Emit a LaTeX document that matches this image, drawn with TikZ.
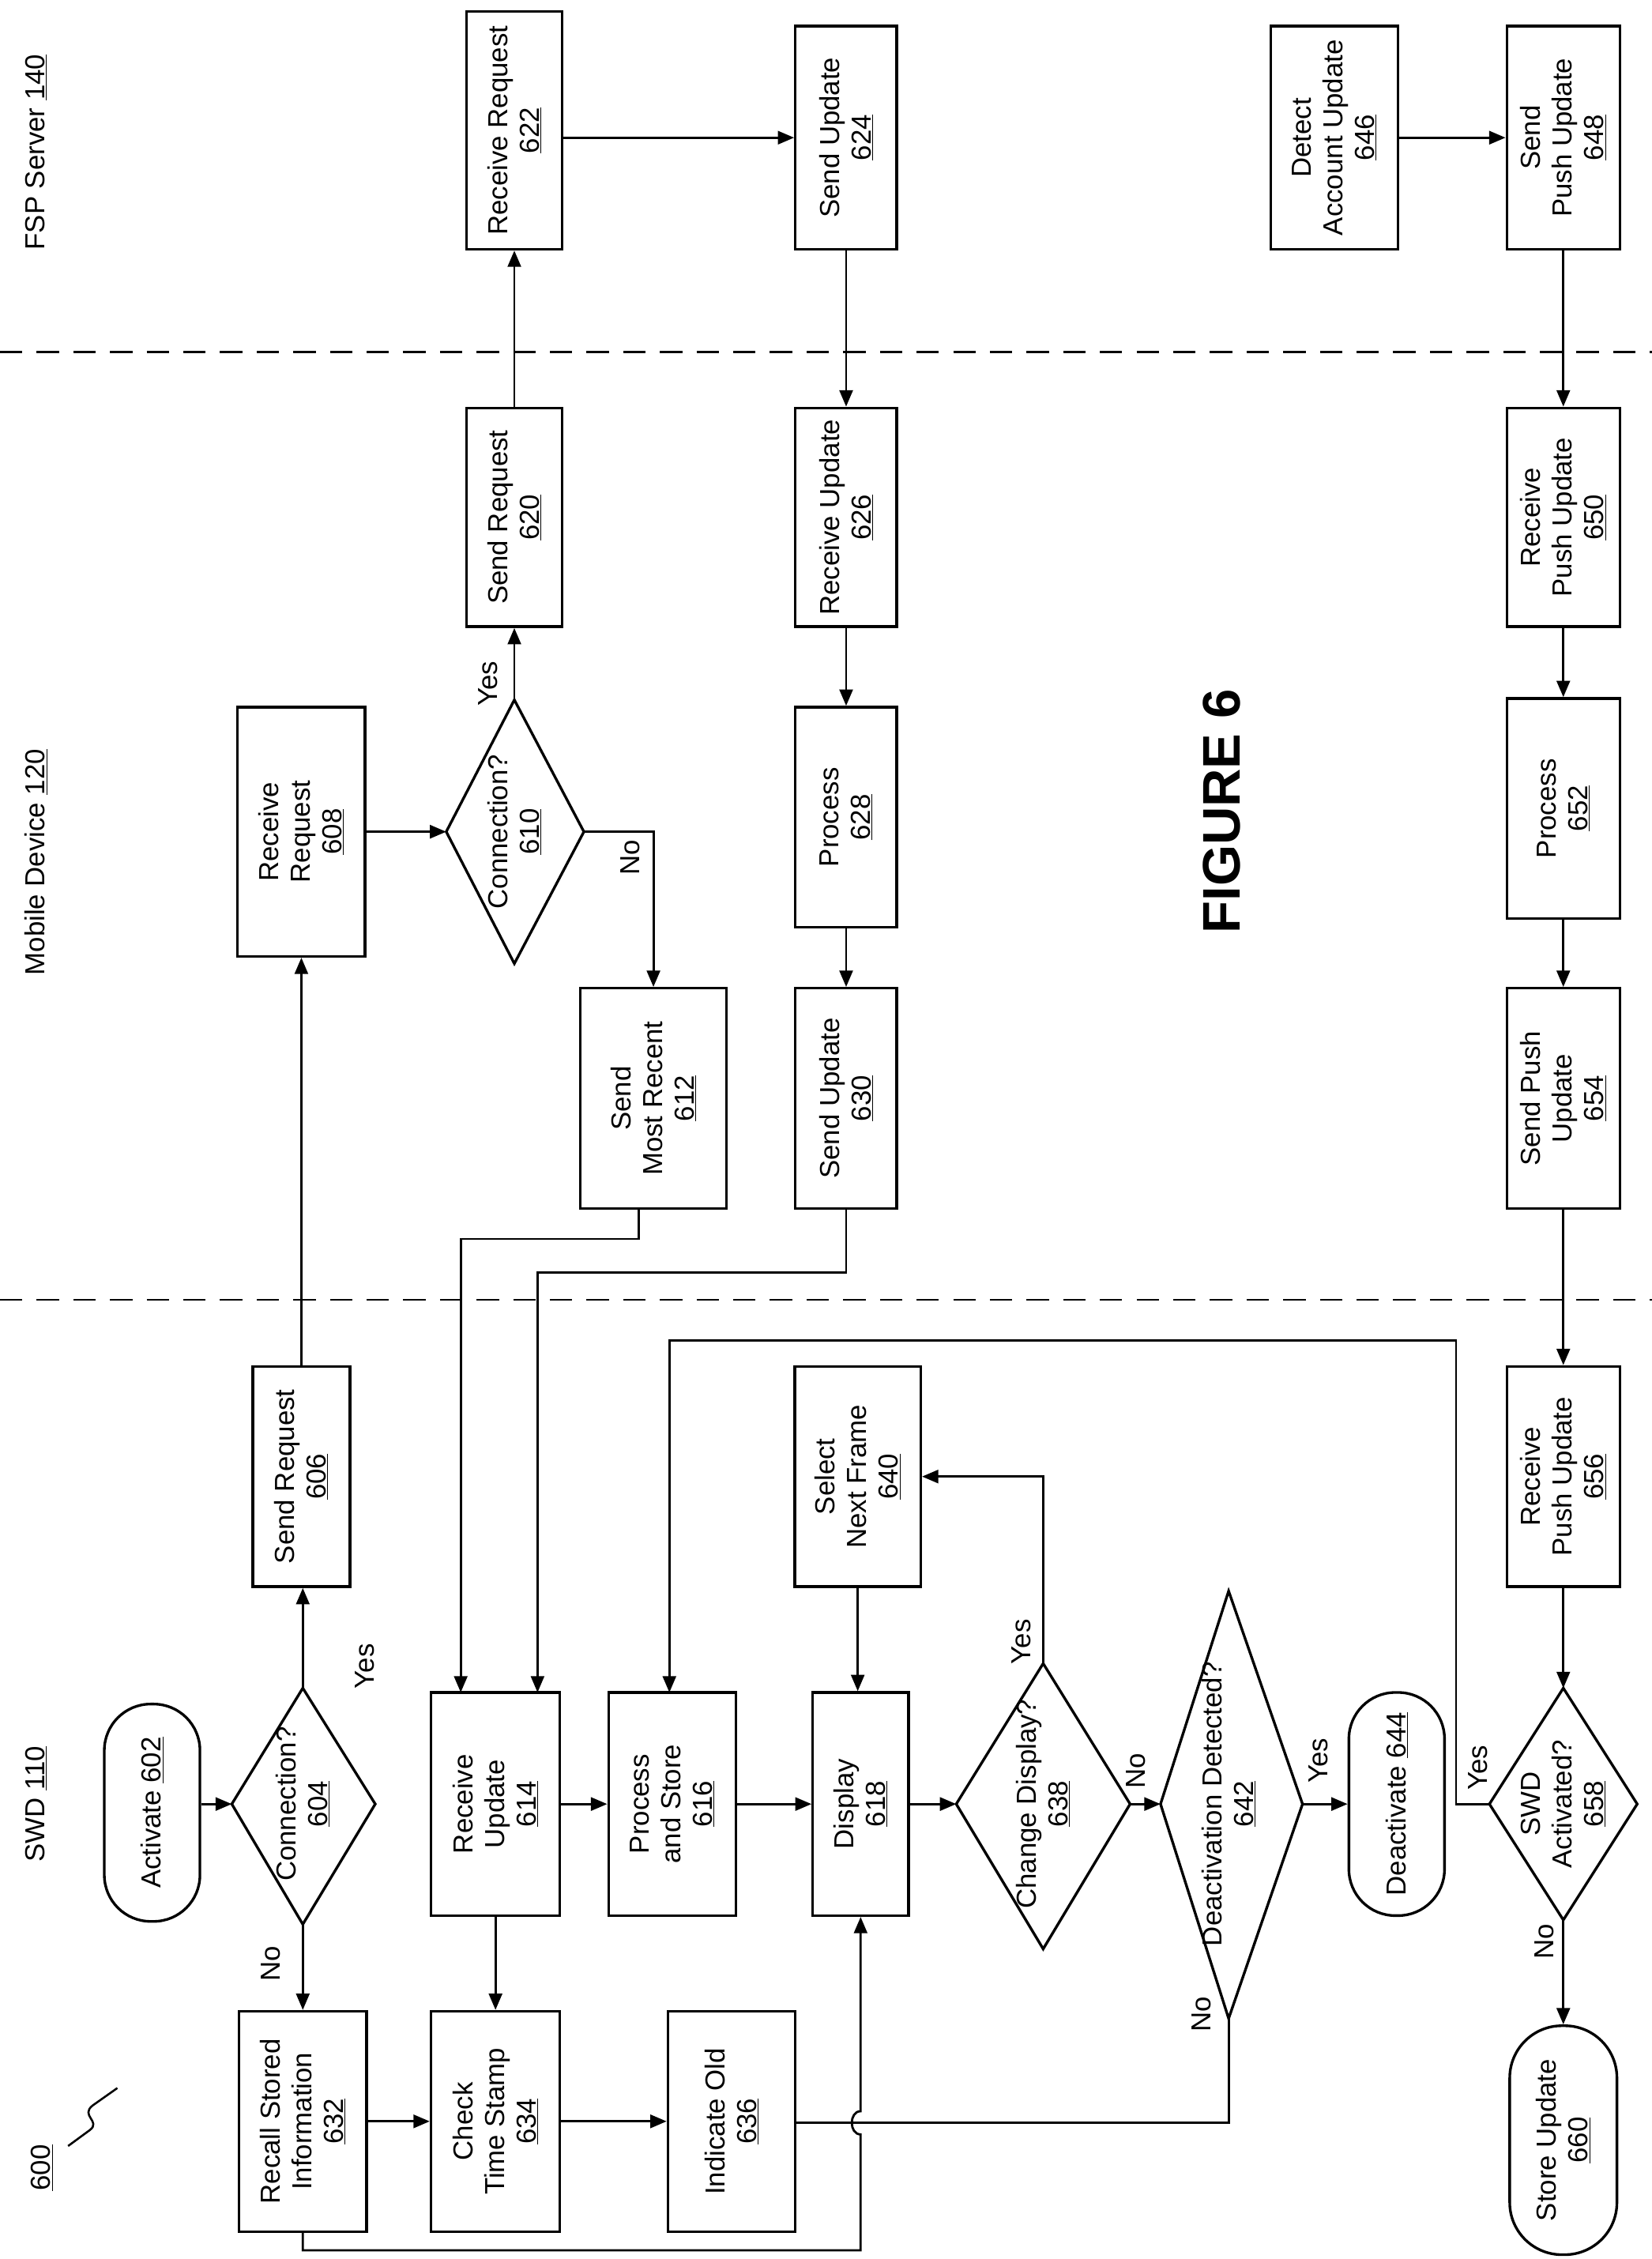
\documentclass[tikz,border=0pt]{standalone}
\usepackage{fontspec}
\setmainfont{Liberation Sans}
\usetikzlibrary{shapes.geometric,arrows.meta}
\begin{document}
\begin{tikzpicture}[x=0.05cm,y=-0.05cm,
  every node/.style={font=\fontsize{27}{31}\selectfont},
  base/.style={draw,line width=2.6pt,rotate=90,align=center,inner sep=2pt},
  box/.style={base},
  term/.style={base,rounded corners=1.6cm},
  dtext/.style={rotate=90,align=center,inner sep=1pt},
  dline/.style={line width=2.6pt,line join=miter},
  lab/.style={rotate=90,inner sep=1pt},
  arr/.style={line width=2.2pt,-{Triangle[length=16pt,width=13pt]}},
  ln/.style={line width=2.2pt}]
\useasboundingbox (0,0) rectangle (1140,1559);
% lanes
\draw[line width=2.2pt,dash pattern=on 22pt off 14pt] (0,243) -- (1140,243);
\draw[line width=2.2pt,dash pattern=on 22pt off 14pt] (0,897) -- (1140,897);
\node[lab] (l140) at (25,105) {FSP Server \underline{140}};
\node[lab] (l120) at (25,595) {Mobile Device \underline{120}};
\node[lab] (l110) at (25,1245) {SWD \underline{110}};
\node[lab] (l600) at (29,1496) {\underline{600}};
\draw[line width=2pt] (47,1481) -- (62,1470) .. controls (70,1464) and (55,1460) .. (64,1453) -- (81,1441);
\node[lab,font=\fontsize{52}{56}\selectfont\bfseries] (fig) at (843,560) {FIGURE 6};
% boxes
\node[box,minimum width=8.2cm,minimum height=3.3cm] (n622) at (355,90) {Receive Request\\\underline{622}};
\node[box,minimum width=7.7cm,minimum height=3.5cm] (n624) at (584,95) {Send Update\\\underline{624}};
\node[box,minimum width=7.7cm,minimum height=4.4cm] (n646) at (921,95) {Detect\\Account Update\\\underline{646}};
\node[box,minimum width=7.7cm,minimum height=3.9cm] (n648) at (1079,95) {Send\\Push Update\\\underline{648}};
\node[box,minimum width=7.55cm,minimum height=3.3cm] (n620) at (355,357) {Send Request\\\underline{620}};
\node[box,minimum width=7.55cm,minimum height=3.5cm] (n626) at (584,357) {Receive Update\\\underline{626}};
\node[box,minimum width=7.55cm,minimum height=3.9cm] (n650) at (1079,357) {Receive\\Push Update\\\underline{650}};
\node[box,minimum width=8.6cm,minimum height=4.4cm] (n608) at (208,574) {Receive\\Request\\\underline{608}};
\node[box,minimum width=7.6cm,minimum height=3.5cm] (n628) at (584,564) {Process\\\underline{628}};
\node[box,minimum width=7.6cm,minimum height=3.9cm] (n652) at (1079,558) {Process\\\underline{652}};
\node[box,minimum width=7.6cm,minimum height=5.05cm] (n612) at (451,758) {Send\\Most Recent\\\underline{612}};
\node[box,minimum width=7.6cm,minimum height=3.5cm] (n630) at (584,758) {Send Update\\\underline{630}};
\node[box,minimum width=7.6cm,minimum height=3.9cm] (n654) at (1079,758) {Send Push\\Update\\\underline{654}};
\node[box,minimum width=7.6cm,minimum height=3.35cm] (n606) at (208,1019) {Send Request\\\underline{606}};
\node[box,minimum width=7.6cm,minimum height=4.35cm] (n640) at (592,1019) {Select\\Next Frame\\\underline{640}};
\node[box,minimum width=7.6cm,minimum height=3.9cm] (n656) at (1079,1019) {Receive\\Push Update\\\underline{656}};
\node[box,minimum width=7.7cm,minimum height=4.45cm] (n614) at (342,1245) {Receive\\Update\\\underline{614}};
\node[box,minimum width=7.7cm,minimum height=4.4cm] (n616) at (464,1245) {Process\\and Store\\\underline{616}};
\node[box,minimum width=7.7cm,minimum height=3.3cm] (n618) at (594,1245) {Display\\\underline{618}};
\node[box,minimum width=7.6cm,minimum height=4.4cm] (n632) at (209,1464) {Recall Stored\\Information\\\underline{632}};
\node[box,minimum width=7.6cm,minimum height=4.45cm] (n634) at (342,1464) {Check\\Time Stamp\\\underline{634}};
\node[box,minimum width=7.6cm,minimum height=4.4cm] (n636) at (505,1464) {Indicate Old\\\underline{636}};
% terminals
\node[term,minimum width=7.5cm,minimum height=3.3cm] (n602) at (105,1251) {Activate \underline{602}};
\node[term,minimum width=7.7cm,minimum height=3.3cm] (n644) at (964,1245) {Deactivate \underline{644}};
\node[term,minimum width=7.9cm,minimum height=3.7cm,rounded corners=1.8cm] (n660) at (1079,1477) {Store Update\\\underline{660}};
% diamonds: text nodes + outlines with named vertices
\node[dtext] (n604) at (209,1245) {Connection?\\\underline{604}};
\coordinate (d604t) at (209,1165); \coordinate (d604b) at (209,1328);
\coordinate (d604l) at (160,1245); \coordinate (d604r) at (259,1245);
\draw[dline] (d604t) -- (d604r) -- (d604b) -- (d604l) -- cycle;
\node[dtext] (n610) at (355,574) {Connection?\\\underline{610}};
\coordinate (d610t) at (355,483); \coordinate (d610b) at (355,665);
\coordinate (d610l) at (308,574); \coordinate (d610r) at (403,574);
\draw[dline] (d610t) -- (d610r) -- (d610b) -- (d610l) -- cycle;
\node[dtext] (n638) at (720,1245) {Change Display?\\\underline{638}};
\coordinate (d638t) at (720,1148); \coordinate (d638b) at (720,1345);
\coordinate (d638l) at (660,1245); \coordinate (d638r) at (780,1245);
\draw[dline] (d638t) -- (d638r) -- (d638b) -- (d638l) -- cycle;
\node[dtext] (n642) at (848,1245) {Deactivation Detected?\\\underline{642}};
\coordinate (d642t) at (848,1098); \coordinate (d642b) at (848,1393);
\coordinate (d642l) at (801,1245); \coordinate (d642r) at (899,1245);
\draw[dline] (d642t) -- (d642r) -- (d642b) -- (d642l) -- cycle;
\node[dtext] (n658) at (1079,1245) {SWD\\Activated?\\\underline{658}};
\coordinate (d658t) at (1079,1165); \coordinate (d658b) at (1079,1325);
\coordinate (d658l) at (1028,1245); \coordinate (d658r) at (1130,1245);
\draw[dline] (d658t) -- (d658r) -- (d658b) -- (d658l) -- cycle;
% connectors
\draw[arr] (n602.south |- d604l) -- (d604l);
\draw[arr] (d604t) -- (d604t |- n606.west);
\draw[arr] (d604b) -- (d604b |- n632.east);
\draw[arr] (n606) -- (n608);
\draw[arr] (n608.south |- d610l) -- (d610l);
\draw[arr] (d610t) -- (n620);
\draw[arr] (d610r) -| (n612.east);
\draw[arr] (n620) -- (n622);
\draw[arr] (n622.south |- n624) -- (n624);
\draw[arr] (n624) -- (n626);
\draw[arr] (n626) -- (n628);
\draw[arr] (n628) -- (n630);
\coordinate (c612) at (441,855);
\draw[arr] (n612.west -| c612) -- (c612) -- (318,855) -- (318,1168);
\coordinate (c630) at (584,878);
\draw[arr] (n630.west) -- (c630) -- (371,878) -- (371,1168);
\draw[arr] (n614) -- (n616);
\draw[arr] (n616) -- (n618);
\draw[arr] (n614) -- (n634);
\draw[arr] (n632) -- (n634);
\draw[arr] (n634) -- (n636);
\coordinate (cb) at (594,1553);
\draw[arr] (n632.west) |- (cb) -- (594,1473) to[out=180,in=180,looseness=1.3] (594,1457) -- (n618.west);
\coordinate (c642) at (848,1465);
\draw[ln] (d642b) -- (c642) -- (n636.south |- c642);
\draw[arr] (n618.south) -- (d638l);
\draw[arr] (d638t) |- (n640.south);
\draw[arr] (n640.west) -- (n640.west |- n618.east);
\draw[arr] (d638r) -- (d642l);
\draw[arr] (d642r) -- (n644.north);
\draw[arr] (n646) -- (n648);
\draw[arr] (n648) -- (n650);
\draw[arr] (n650) -- (n652);
\draw[arr] (n652) -- (n654);
\draw[arr] (n654) -- (n656);
\draw[arr] (n656) -- (d658t);
\coordinate (c658) at (1005,925);
\draw[arr] (d658l) -- (1005,1245) -- (c658) -- (462,925) -- (462,1168);
\draw[arr] (d658b) -- (n660);
% labels
\node[lab] (y604) at (252,1150) {Yes};
\node[lab] (no604) at (187,1355) {No};
\node[lab] (y610) at (337,472) {Yes};
\node[lab] (no610) at (435,592) {No};
\node[lab] (y638) at (705,1133) {Yes};
\node[lab] (no638) at (784,1222) {No};
\node[lab] (y642) at (910,1215) {Yes};
\node[lab] (no642) at (829,1390) {No};
\node[lab] (y658) at (1020,1220) {Yes};
\node[lab] (no658) at (1066,1340) {No};
\end{tikzpicture}
\end{document}
